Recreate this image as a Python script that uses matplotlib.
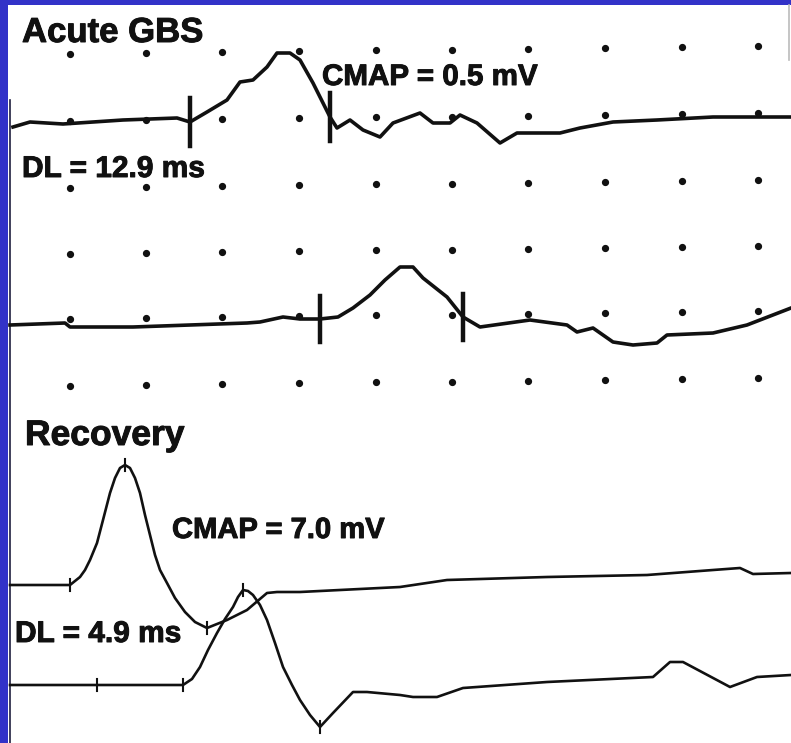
import matplotlib.pyplot as plt
import matplotlib.patheffects as pe
from matplotlib.patches import Rectangle

# Nerve conduction traces, median nerve motor study
# x: sweep time (display units), y: amplitude above each trace's baseline

# Acute GBS, distal stimulation
acute_dist_t = [13, 30, 63, 123, 177, 190, 207, 227, 240, 253, 267, 277, 290, 300, 313, 323,
                330, 337, 350, 363, 380, 393, 420, 433, 450, 460, 477, 500, 517, 560, 580,
                613, 657, 713, 791]
acute_dist_amp = [-2, 3, 1, 5, 7, 3, 13, 25, 43, 45, 58, 72, 72, 65, 42, 22,
                  8, -3, 5, -5, -12, 2, 12, 2, 2, 10, 2, -18, -8, -8, -3,
                  3, 5, 8, 8]
acute_dist_marks = [190, 330]

# Acute GBS, proximal stimulation
acute_prox_t = [10, 65, 70, 133, 247, 260, 283, 300, 320, 338, 353, 370, 385, 400, 413, 423,
                447, 463, 480, 530, 567, 577, 593, 613, 633, 657, 667, 713, 747, 791]
acute_prox_amp = [-3, -1, -5, -5, -1, 0, 5, 3, 3, 5, 14, 27, 42, 55, 55, 44,
                  25, 5, -5, 2, -3, -10, -6, -20, -23, -21, -13, -11, -3, 14]
acute_prox_marks = [320, 463]

# Recovery, distal stimulation
rec_dist_t = [10, 70, 80, 85, 90, 97, 103, 110, 115, 120, 125, 130, 135, 140, 145, 150, 155,
              160, 167, 175, 185, 195, 207, 227, 247, 267, 277, 300, 400, 447, 547, 647,
              713, 740, 753, 791]
rec_dist_amp = [0, 0, 8, 15, 25, 42, 65, 92, 107, 117, 120, 117, 107, 92, 70, 50, 30,
                15, 2, -13, -27, -37, -43, -35, -25, -8, -7, -7, -2, 5, 8, 10,
                15, 17, 11, 12]
rec_dist_marks = [70, 125, 207]

# Recovery, proximal stimulation
rec_prox_t = [10, 97, 183, 192, 200, 208, 217, 225, 233, 238, 243, 248, 253, 260, 267, 275,
              283, 292, 300, 310, 320, 333, 353, 367, 400, 413, 437, 463, 547, 653, 670,
              683, 730, 757, 791]
rec_prox_amp = [0, 0, 0, 6, 18, 35, 52, 66, 78, 88, 95, 94, 90, 80, 65, 42,
                18, 0, -15, -30, -42, -28, -7, -7, -10, -12, -12, -3, 3, 8, 23,
                23, -2, 8, 10]
rec_prox_marks = [97, 183, 243, 320]

# calibration dot grid behind the acute recordings
grid_cols = [70, 146, 222, 299, 376, 452, 528, 605, 682, 758]
grid_rows = [54, 121, 188, 254, 319, 386]

BLUE = "#3232c8"
INK = "#111111"

fig = plt.figure(figsize=(7.91, 7.43), dpi=100, facecolor=BLUE)
ax = fig.add_axes([0, 0, 1, 1])
ax.set_xlim(0, 791)
ax.set_ylim(743, 0)
ax.axis("off")

# paper area inside the blue frame
ax.add_patch(Rectangle((8, 5), 783, 738, facecolor="white", edgecolor="none", zorder=0))

# dot grid (rows drift up slightly to the right)
for r in grid_rows:
    xs = grid_cols
    ys = [r - 8 * (c - grid_cols[0]) / (grid_cols[-1] - grid_cols[0]) for c in xs]
    ax.plot(xs, ys, "o", ms=4.2, color=INK, zorder=1)


def trace(t, amp, base, marks, lw, mark_h, mark_lw):
    ys = [base - a for a in amp]
    ax.plot(t, ys, color=INK, lw=lw, solid_joinstyle="round", zorder=3)
    for m in marks:
        # find level of the trace at the marker
        for i in range(len(t) - 1):
            if t[i] <= m <= t[i + 1]:
                f = (m - t[i]) / (t[i + 1] - t[i])
                y = ys[i] + f * (ys[i + 1] - ys[i])
                break
        ax.plot([m, m], [y - mark_h, y + mark_h], color=INK, lw=mark_lw, zorder=3)


trace(acute_dist_t, acute_dist_amp, 125, acute_dist_marks, 2.6, 24, 3.2)
trace(acute_prox_t, acute_prox_amp, 322, acute_prox_marks, 2.6, 23, 3.2)
trace(rec_dist_t, rec_dist_amp, 585, rec_dist_marks, 1.9, 6, 1.5)
trace(rec_prox_t, rec_prox_amp, 685, rec_prox_marks, 1.9, 6, 1.5)

# scan edge lines
ax.plot([9.5, 9.5], [100, 743], color="#202040", lw=1.2, zorder=2)
ax.plot([789, 789], [5, 60], color="#bbbbbb", lw=1.2, zorder=2)

# heavy print-style labels
heavy = [pe.withStroke(linewidth=0.7, foreground=INK)]
font = dict(family="Liberation Sans", weight="bold", color=INK, va="baseline", ha="left",
            path_effects=heavy)
ax.text(22, 42, "Acute GBS", fontsize=25, **font)
ax.text(22, 177, "DL = 12.9 ms", fontsize=21.5, **font)
ax.text(322, 85, "CMAP = 0.5 mV", fontsize=21.3, **font)
ax.text(25, 445, "Recovery", fontsize=25.5, **font)
ax.text(172, 538, "CMAP = 7.0 mV", fontsize=21, **font)
ax.text(15, 642, "DL = 4.9 ms", fontsize=21.5, **font)

fig.savefig("out.png", dpi=100, facecolor=BLUE)
